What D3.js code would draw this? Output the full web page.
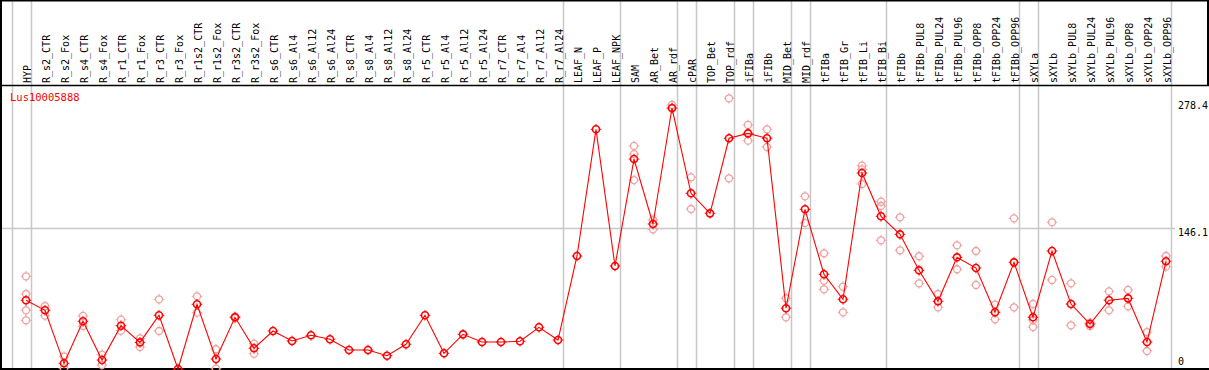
<!DOCTYPE html>
<html><head><meta charset="utf-8">
<script src="https://cdn.jsdelivr.net/npm/d3@7"></script>
<style>body{margin:0;background:#fff}svg{display:block}</style>
</head><body>
<script>
const categories = ["HYP","R_s2_CTR","R_s2_Fox","R_s4_CTR","R_s4_Fox","R_r1_CTR","R_r1_Fox","R_r3_CTR","R_r3_Fox","R_r1s2_CTR","R_r1s2_Fox","R_r3s2_CTR","R_r3s2_Fox","R_s6_CTR","R_s6_Al4","R_s6_Al12","R_s6_Al24","R_s8_CTR","R_s8_Al4","R_s8_Al12","R_s8_Al24","R_r5_CTR","R_r5_Al4","R_r5_Al12","R_r5_Al24","R_r7_CTR","R_r7_Al4","R_r7_Al12","R_r7_Al24","LEAF_N","LEAF_P","LEAF_NPK","SAM","AR_Bet","AR_rdf","cPAR","TOP_Bet","TOP_rdf","iFIBa","iFIBb","MID_Bet","MID_rdf","tFIBa","tFIB_Gr","tFIB_Li","tFIB_Bi","tFIBb","tFIBb_PUL8","tFIBb_PUL24","tFIBb_PUL96","tFIBb_OPP8","tFIBb_OPP24","tFIBb_OPP96","sXYLa","sXYLb","sXYLb_PUL8","sXYLb_PUL24","sXYLb_PUL96","sXYLb_OPP8","sXYLb_OPP24","sXYLb_OPP96"];
const means = [71.4,61.0,5.9,49.6,9.3,45.0,27.7,55.8,0,67.2,10.4,53.7,21.5,39.5,29.1,35.0,30.9,19.7,19.7,13.8,25.7,55.8,16.3,36.0,28.0,28.0,28.8,43.3,30.1,117.4,249.0,107.0,218.1,150.6,271.1,182.5,161.7,239.7,244.8,239.7,63.1,165.9,98.4,72.4,203.6,158.6,139.9,102.5,70.3,116.0,104.9,58.9,110.8,53.7,122.6,67.5,46.7,71.4,73.4,28.0,111.9];
const replicates = [
 [96.3,77.9,61.0,50.6],[65.4,55.4],[12.8,0.7],[55.1,44.7],[14.9,4.2],[51.2,39.8],[31.9,22.9],[72.4,39.5],[],[75.5,58.5],[20.5,0.3],[54.7,53.0],[26.3,15.9],
 [],[],[],[],[],[],[],[],[],[],[],[],[],[],[],[],
 [],[],[],[231.7,223.3,196.3],[154.8,145.1],[274.3,270.4],[199.1,166.2],[],[281.2,198.1],[253.5,237.2],[249.0,230.6],[73.4,53.7],[179.4,151.7],
 [120.2,91.7,82.8],[85.5,58.9],[211.2,207.4,192.2],[173.8,169.3,133.7],[157.6,123.3],[117.1,89.0],[77.9,64.1],[128.5,103.6],[122.6,87.3],[66.8,51.6],[156.5,64.1],
 [67.5,50.9,43.6],[152.4,92.5],[89.0,45.4],[48.1,44.7],[80.7,61.0],[82.1,65.1],[38.4,18.7],[117.4,106.3]
];
const groupEnds = ["HYP","R_r7_Al24","LEAF_NPK","AR_rdf","cPAR","TOP_rdf","iFIBa","MID_Bet","MID_rdf","tFIB_Bi","tFIBb_OPP96","sXYLa","sXYLb_OPP96"];
const yTicks = [278.4,146.1,0];
const geneName = "Lus10005888";

const W = 1209, H = 370;
const svg = d3.select("body").append("svg").attr("width",W).attr("height",H);
const x = d3.scalePoint().domain(categories).range([26,1166]);
const step = x.step();
const y = d3.scaleLinear().domain([0,278.4]).range([369,101]);
const font = "'DejaVu Sans Mono', monospace";

// vertical group separators
const sepX = [x(categories[0]) - step + 4.5].concat(groupEnds.map(c => x(c) + 4.5));
svg.selectAll("line.sep").data(sepX).enter().append("line").attr("class","sep")
  .attr("x1",d=>Math.round(d)+0.5).attr("x2",d=>Math.round(d)+0.5)
  .attr("y1",0).attr("y2",H).attr("stroke","#c8c8c8").attr("stroke-width",1.5);

// middle horizontal grid line
svg.append("line").attr("x1",0).attr("x2",1175)
  .attr("y1",Math.round(y(146.1))+0.5).attr("y2",Math.round(y(146.1))+0.5)
  .attr("stroke","#c8c8c8").attr("stroke-width",1.5);

// borders
svg.append("line").attr("x1",0).attr("x2",W).attr("y1",0.5).attr("y2",0.5).attr("stroke","#000").attr("stroke-width",2);
svg.append("line").attr("x1",0).attr("x2",W).attr("y1",85.5).attr("y2",85.5).attr("stroke","#000").attr("stroke-width",1.5);
svg.append("line").attr("x1",0).attr("x2",W).attr("y1",369).attr("y2",369).attr("stroke","#000").attr("stroke-width",2);
svg.append("line").attr("x1",1).attr("x2",1).attr("y1",0).attr("y2",H).attr("stroke","#000").attr("stroke-width",2);
svg.append("line").attr("x1",1208).attr("x2",1208).attr("y1",0).attr("y2",86).attr("stroke","#000").attr("stroke-width",2);

// column labels (rotated, reading upward from the header base)
svg.selectAll("text.cat").data(categories).enter().append("text").attr("class","cat")
  .attr("transform",d=>`translate(${x(d)+5},83) rotate(-90)`)
  .attr("text-anchor","start").attr("font-family",font).attr("font-size","10px").attr("fill","#000")
  .text(d=>d);

// y labels
svg.selectAll("text.ylab").data(yTicks).enter().append("text").attr("class","ylab")
  .attr("x",1178).attr("y",d=> d===0 ? 365 : y(d)+8)
  .attr("font-family",font).attr("font-size","10px").attr("fill","#000").text(d=>d);

// gene name
svg.append("text").attr("x",10).attr("y",101).attr("font-family",font).attr("font-size","10.5px")
  .attr("fill","#ff0000").text(geneName);

function marker(g, cx, cy, color, sw){
  const r = 3.5;
  g.append("circle").attr("cx",cx).attr("cy",cy).attr("r",r).attr("fill","none").attr("stroke",color).attr("stroke-width",sw);
  [[0,-1],[0,1],[-1,0],[1,0]].forEach(([dx,dy])=>{
    g.append("line").attr("x1",cx+dx*r).attr("y1",cy+dy*r).attr("x2",cx+dx*(r+1.8)).attr("y2",cy+dy*(r+1.8))
      .attr("stroke",color).attr("stroke-width",1);
  });
}

// replicates
const repG = svg.append("g");
categories.forEach((c,i)=>{
  replicates[i].forEach(v=> marker(repG, x(c), y(v), "#f0a0a0", 1.3));
});

// mean line
svg.append("path").datum(means)
  .attr("d", d3.line().x((d,i)=>x(categories[i])).y(d=>y(d)))
  .attr("fill","none").attr("stroke","#ff0000").attr("stroke-width",1.1);

// mean markers
const meanG = svg.append("g");
categories.forEach((c,i)=> marker(meanG, x(c), y(means[i]), "#ff0000", 1.6));
</script>
</body></html>
